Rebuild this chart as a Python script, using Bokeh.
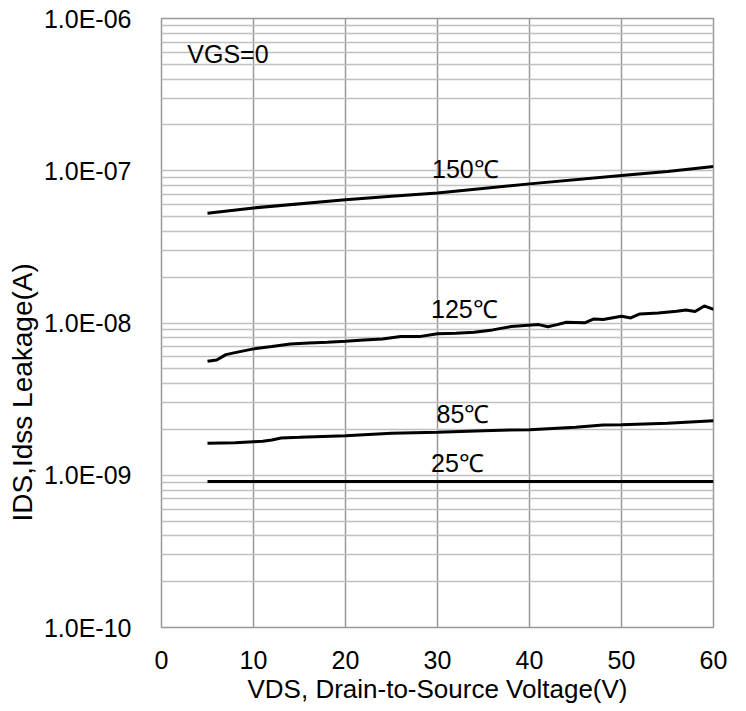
import math
from bokeh.plotting import figure
from bokeh.models import FixedTicker, Label, Range1d, Title
from bokeh.embed import file_html
from bokeh.resources import INLINE

# ---- data ----
x_150 = [5, 10, 20, 25, 30, 40, 50, 55, 60]
y_150 = [5.26e-8, 5.70e-8, 6.44e-8, 6.81e-8, 7.15e-8, 8.2e-8, 9.3e-8, 9.9e-8, 1.066e-7]

x_125 = [5, 6, 7, 8, 10, 12, 14, 16, 18, 20, 22, 24, 26, 28, 30, 32, 34, 36, 38, 41,
         42, 43, 44, 46, 47, 48, 50, 51, 52, 54, 56, 57, 58, 59, 60]
y_125 = [5.60e-9, 5.72e-9, 6.20e-9, 6.39e-9, 6.76e-9, 7.00e-9, 7.29e-9, 7.40e-9, 7.47e-9, 7.58e-9,
         7.74e-9, 7.86e-9, 8.14e-9, 8.14e-9, 8.50e-9, 8.56e-9, 8.69e-9, 9.01e-9, 9.47e-9, 9.76e-9,
         9.45e-9, 9.76e-9, 1.011e-8, 1.002e-8, 1.064e-8, 1.053e-8, 1.107e-8, 1.080e-8, 1.147e-8, 1.165e-8,
         1.194e-8, 1.219e-8, 1.190e-8, 1.295e-8, 1.23e-8]

x_85 = [5, 8, 10, 11, 12, 13, 15, 20, 25, 30, 35, 40, 45, 48, 50, 55, 60]
y_85 = [1.62e-9, 1.637e-9, 1.662e-9, 1.67e-9, 1.706e-9, 1.758e-9, 1.774e-9, 1.82e-9, 1.885e-9,
        1.914e-9, 1.963e-9, 1.993e-9, 2.064e-9, 2.14e-9, 2.15e-9, 2.193e-9, 2.284e-9]

x_25 = [5, 10, 20, 30, 40, 50, 60]
y_25 = [9.1e-10, 9.1e-10, 9.1e-10, 9.1e-10, 9.1e-10, 9.1e-10, 9.1e-10]

series_labels = ["150℃", "125℃", "85℃", "25℃"]
x_ticks = [0, 10, 20, 30, 40, 50, 60]
y_ticks = [1e-10, 1e-9, 1e-8, 1e-7, 1e-6]
y_tick_labels = ["1.0E-10", "1.0E-09", "1.0E-08", "1.0E-07", "1.0E-06"]
y_minor = [m * d for d in [1e-10, 1e-9, 1e-8, 1e-7] for m in range(2, 10)]

FONT = "Liberation Sans"

p = figure(width=746, height=711, y_axis_type="log",
           x_range=Range1d(0, 60), y_range=Range1d(1e-10, 1e-6),
           output_backend="svg", toolbar_location=None,
           min_border_left=161, min_border_right=33,
           min_border_top=18, min_border_bottom=84)
p.background_fill_color = "white"
p.border_fill_color = "white"
p.outline_line_color = "#999999"
p.outline_line_width = 1.5

# axes
p.xaxis.ticker = FixedTicker(ticks=x_ticks)
p.yaxis.ticker = FixedTicker(ticks=y_ticks, minor_ticks=y_minor)
p.yaxis.major_label_overrides = dict(zip(y_ticks, y_tick_labels))
for ax in (p.xaxis, p.yaxis):
    ax.axis_line_color = None
    ax.major_tick_line_color = None
    ax.minor_tick_line_color = None
    ax.major_label_text_font = FONT
    ax.major_label_text_font_size = "25px"
    ax.major_label_text_color = "black"
p.xaxis.major_label_standoff = 17
p.yaxis.major_label_standoff = 24
p.xaxis.axis_label = "VDS, Drain-to-Source Voltage(V)"
p.xaxis.axis_label_text_font = FONT
p.xaxis.axis_label_text_font_size = "26px"
p.xaxis.axis_label_text_font_style = "normal"
p.xaxis.axis_label_text_color = "black"
p.xaxis.axis_label_standoff = 2

# y axis title: placed lower than the plot centre, as in the reference
p.add_layout(Title(text="IDS,Idss Leakage(A)", align="left", offset=106,
                   text_font=FONT, text_font_size="28px", text_font_style="normal",
                   text_color="black", standoff=5), "left")

# grids
p.xgrid.ticker = FixedTicker(ticks=x_ticks)
p.xgrid.grid_line_color = "#999999"
p.xgrid.grid_line_width = 1.5
p.ygrid.ticker = FixedTicker(ticks=y_ticks, minor_ticks=y_minor)
p.ygrid.grid_line_color = "#c0c0c0"
p.ygrid.grid_line_width = 1.5
p.ygrid.minor_grid_line_color = "#c0c0c0"
p.ygrid.minor_grid_line_width = 1.5

# curves
for xs, ys in [(x_150, y_150), (x_125, y_125), (x_85, y_85), (x_25, y_25)]:
    p.line(xs, ys, line_color="black", line_width=3)

# curve labels
label_pos = [(29.4, 1.02e-7), (29.3, 1.245e-8), (29.9, 2.53e-9), (29.3, 1.196e-9)]
for txt, (lx, ly) in zip(series_labels, label_pos):
    p.add_layout(Label(x=lx, y=ly, text=txt, text_font=FONT, text_font_size="25px",
                       text_align="left", text_baseline="middle", text_color="black"))
p.add_layout(Label(x=2.8, y=5.86e-7, text="VGS=0", text_font=FONT, text_font_size="25px",
                   text_align="left", text_baseline="middle", text_color="black"))

# stray clipped "0" at the far left of the reference
p.add_layout(Label(x=-163, y=-31, x_units="screen", y_units="screen", text="0",
                   text_font=FONT, text_font_size="25px",
                   text_align="center", text_baseline="middle", text_color="black"))

open("out.html", "w").write(file_html(p, INLINE))
